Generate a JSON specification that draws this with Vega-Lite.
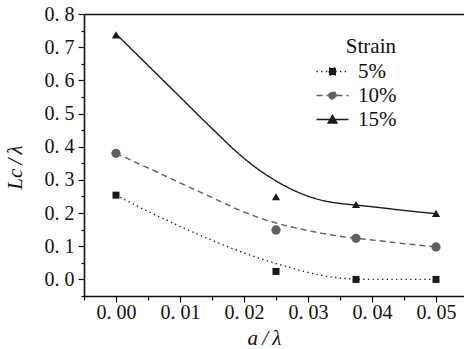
{
  "$schema": "https://vega.github.io/schema/vega-lite/v6.json",
  "width": 380,
  "height": 282,
  "autosize": {"type": "none"},
  "padding": {"left": 84, "top": 14, "right": 0, "bottom": 53},
  "background": "white",
  "config": {
    "view": {"stroke": null},
    "axis": {
      "domainColor": "#111111",
      "domainWidth": 1.6,
      "tickColor": "#111111",
      "tickWidth": 1.2,
      "labelColor": "#111111",
      "labelFont": "Liberation Serif, DejaVu Serif, serif",
      "labelFontSize": 20,
      "titleFont": "Liberation Serif, DejaVu Serif, serif",
      "titleFontStyle": "italic",
      "titleFontWeight": "normal",
      "titleFontSize": 21,
      "titleColor": "#111111",
      "grid": false
    },
    "legend": {
      "labelFont": "Liberation Serif, DejaVu Serif, serif",
      "titleFont": "Liberation Serif, DejaVu Serif, serif",
      "labelFontSize": 21,
      "titleFontSize": 21,
      "titleFontWeight": "normal"
    }
  },
  "datasets": {
    "pts": [
      {"Strain": "5%", "a": 0, "L": 0.254},
      {"Strain": "5%", "a": 0.025, "L": 0.024},
      {"Strain": "5%", "a": 0.0375, "L": 0.0},
      {"Strain": "5%", "a": 0.05, "L": 0.0},
      {"Strain": "10%", "a": 0, "L": 0.38},
      {"Strain": "10%", "a": 0.025, "L": 0.149},
      {"Strain": "10%", "a": 0.0375, "L": 0.124},
      {"Strain": "10%", "a": 0.05, "L": 0.098},
      {"Strain": "15%", "a": 0, "L": 0.737},
      {"Strain": "15%", "a": 0.025, "L": 0.249},
      {"Strain": "15%", "a": 0.0375, "L": 0.226},
      {"Strain": "15%", "a": 0.05, "L": 0.199}
    ],
    "curve": [
      {"Strain": "5%", "a": 0, "L": 0.254},
      {"Strain": "5%", "a": 0.005, "L": 0.205},
      {"Strain": "5%", "a": 0.01, "L": 0.16},
      {"Strain": "5%", "a": 0.015, "L": 0.118},
      {"Strain": "5%", "a": 0.02, "L": 0.08},
      {"Strain": "5%", "a": 0.0225, "L": 0.063},
      {"Strain": "5%", "a": 0.025, "L": 0.048},
      {"Strain": "5%", "a": 0.0275, "L": 0.034},
      {"Strain": "5%", "a": 0.03, "L": 0.021},
      {"Strain": "5%", "a": 0.0325, "L": 0.011},
      {"Strain": "5%", "a": 0.035, "L": 0.004},
      {"Strain": "5%", "a": 0.0375, "L": 0.001},
      {"Strain": "5%", "a": 0.04, "L": 0.0},
      {"Strain": "5%", "a": 0.045, "L": 0.0},
      {"Strain": "5%", "a": 0.05, "L": 0.0},
      {"Strain": "10%", "a": 0, "L": 0.38},
      {"Strain": "10%", "a": 0.005, "L": 0.336},
      {"Strain": "10%", "a": 0.01, "L": 0.291},
      {"Strain": "10%", "a": 0.015, "L": 0.247},
      {"Strain": "10%", "a": 0.02, "L": 0.203},
      {"Strain": "10%", "a": 0.0225, "L": 0.185},
      {"Strain": "10%", "a": 0.025, "L": 0.17},
      {"Strain": "10%", "a": 0.0275, "L": 0.158},
      {"Strain": "10%", "a": 0.03, "L": 0.147},
      {"Strain": "10%", "a": 0.0325, "L": 0.138},
      {"Strain": "10%", "a": 0.035, "L": 0.13},
      {"Strain": "10%", "a": 0.0375, "L": 0.124},
      {"Strain": "10%", "a": 0.04, "L": 0.119},
      {"Strain": "10%", "a": 0.045, "L": 0.108},
      {"Strain": "10%", "a": 0.05, "L": 0.098},
      {"Strain": "15%", "a": 0, "L": 0.74},
      {"Strain": "15%", "a": 0.005, "L": 0.645},
      {"Strain": "15%", "a": 0.01, "L": 0.55},
      {"Strain": "15%", "a": 0.015, "L": 0.455},
      {"Strain": "15%", "a": 0.02, "L": 0.365},
      {"Strain": "15%", "a": 0.0225, "L": 0.328},
      {"Strain": "15%", "a": 0.025, "L": 0.297},
      {"Strain": "15%", "a": 0.0275, "L": 0.271},
      {"Strain": "15%", "a": 0.03, "L": 0.251},
      {"Strain": "15%", "a": 0.0325, "L": 0.237},
      {"Strain": "15%", "a": 0.035, "L": 0.229},
      {"Strain": "15%", "a": 0.0375, "L": 0.224},
      {"Strain": "15%", "a": 0.04, "L": 0.219},
      {"Strain": "15%", "a": 0.045, "L": 0.208},
      {"Strain": "15%", "a": 0.05, "L": 0.198}
    ]
  },
  "resolve": {"axis": {"x": "independent"}},
  "layer": [
    {
      "data": {"name": "curve"},
      "mark": {"type": "line", "interpolate": "monotone", "strokeWidth": 1.4, "clip": true},
      "encoding": {
        "x": {
          "field": "a", "type": "quantitative",
          "scale": {"domain": [-0.005, 0.054375], "nice": false, "zero": false},
          "axis": {
            "orient": "bottom",
            "title": "a\u2009/\u2009λ",
            "titleX": 180, "titleY": 42, "titleAlign": "center", "titleBaseline": "middle",
            "values": [-0.005, 0, 0.005, 0.01, 0.015, 0.02, 0.025, 0.03, 0.035, 0.04, 0.045, 0.05],
            "labelExpr": "abs(datum.value*100 - round(datum.value*100)) < 0.01 ? replace(format(datum.value, '.2f'), '.', '. ') : ''",
            "tickSize": {"condition": {"test": "abs(datum.value*100 - round(datum.value*100)) < 0.01", "value": 6}, "value": 4},
            "labelPadding": 0,
            "labelFlush": false,
            "labelOverlap": false
          }
        },
        "y": {
          "field": "L", "type": "quantitative",
          "scale": {"domain": [-0.05, 0.8], "nice": false, "zero": false},
          "axis": {
            "title": "Lc\u2009/\u2009λ",
            "titleX": -69, "titleY": 153, "titleAngle": -90, "titleAlign": "center", "titleBaseline": "middle",
            "values": [-0.05, 0, 0.05, 0.1, 0.15, 0.2, 0.25, 0.3, 0.35, 0.4, 0.45, 0.5, 0.55, 0.6, 0.65, 0.7, 0.75, 0.8],
            "labelExpr": "abs(datum.value*10 - round(datum.value*10)) < 0.01 ? replace(format(datum.value, '.1f'), '.', '. ') : ''",
            "tickSize": {"condition": {"test": "abs(datum.value*10 - round(datum.value*10)) < 0.01", "value": 6}, "value": 3},
            "labelPadding": 4,
            "labelFlush": false,
            "labelOverlap": false
          }
        },
        "strokeDash": {
          "field": "Strain", "type": "nominal",
          "scale": {"domain": ["5%", "10%", "15%"], "range": [[1.3, 3.4], [6, 4], [1, 0]]},
          "legend": {
            "orient": "none",
            "legendX": 238,
            "legendY": 22,
            "padding": 0,
            "title": "Strain",
            "titleColor": "#111111",
            "titleAnchor": "end",
            "titlePadding": 4,
            "labelColor": "#111111",
            "labelOffset": 15,
            "rowPadding": 2,
            "symbolSize": 100,
            "symbolStrokeWidth": 1.3,
            "encode": {
              "symbols": {
                "update": {
                  "shape": {"signal": "datum.value == '5%' ? 'M-3.2,0H3.2M-0.7,-0.7H0.7V0.7H-0.7Z' : datum.value == '10%' ? 'M-3.2,0H3.2M-0.74,0A0.74,0.74,0,1,0,0.74,0A0.74,0.74,0,1,0,-0.74,0Z' : 'M-3.2,0H3.2M0,-0.85L0.9,0.7H-0.9Z'"},
                  "fill": {"signal": "datum.value == '10%' ? '#606060' : '#1a1a1a'"},
                  "stroke": {"signal": "datum.value == '10%' ? '#606060' : '#1a1a1a'"},
                  "opacity": {"value": 1}
                }
              }
            }
          }
        },
        "color": {
          "field": "Strain", "type": "nominal",
          "scale": {"domain": ["10%", "5%", "15%"], "range": ["#606060", "#1a1a1a", "#1a1a1a"]},
          "legend": null
        }
      }
    },
    {
      "data": {"name": "pts"},
      "mark": {"type": "point", "filled": true, "opacity": 1},
      "encoding": {
        "x": {
          "field": "a", "type": "quantitative",
          "scale": {"domain": [-0.005, 0.054375], "nice": false, "zero": false},
          "axis": {"orient": "top", "labels": false, "ticks": false, "title": null, "domain": true}
        },
        "y": {
          "field": "L", "type": "quantitative",
          "scale": {"domain": [-0.05, 0.8], "nice": false, "zero": false},
          "axis": {
            "title": "Lc\u2009/\u2009λ",
            "titleX": -69, "titleY": 153, "titleAngle": -90, "titleAlign": "center", "titleBaseline": "middle",
            "values": [-0.05, 0, 0.05, 0.1, 0.15, 0.2, 0.25, 0.3, 0.35, 0.4, 0.45, 0.5, 0.55, 0.6, 0.65, 0.7, 0.75, 0.8],
            "labelExpr": "abs(datum.value*10 - round(datum.value*10)) < 0.01 ? replace(format(datum.value, '.1f'), '.', '. ') : ''",
            "tickSize": {"condition": {"test": "abs(datum.value*10 - round(datum.value*10)) < 0.01", "value": 6}, "value": 3},
            "labelPadding": 4,
            "labelFlush": false,
            "labelOverlap": false
          }
        },
        "shape": {
          "field": "Strain", "type": "nominal",
          "scale": {"domain": ["15%", "5%", "10%"], "range": ["triangle-up", "square", "circle"]},
          "legend": null
        },
        "color": {
          "field": "Strain", "type": "nominal",
          "scale": {"domain": ["10%", "5%", "15%"], "range": ["#606060", "#1a1a1a", "#1a1a1a"]},
          "legend": null
        },
        "size": {
          "field": "Strain", "type": "nominal",
          "scale": {"domain": ["5%", "15%", "10%"], "range": [49, 85, 52]},
          "legend": null
        }
      }
    }
  ]
}
